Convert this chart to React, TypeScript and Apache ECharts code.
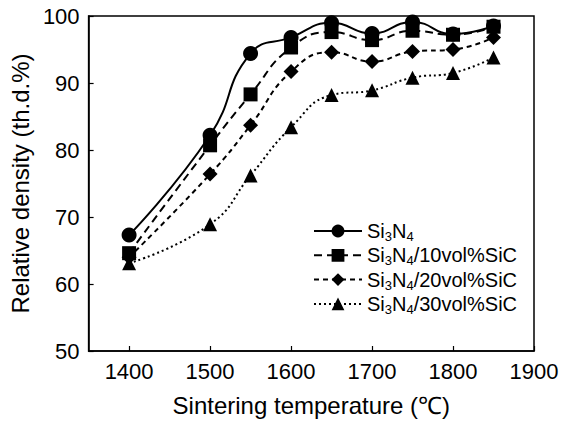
import React, { useEffect, useRef } from "react";
import * as echarts from "echarts";

const temperatures = [1400, 1500, 1550, 1600, 1650, 1700, 1750, 1800, 1850];
const si3n4 = [67.3, 82.2, 94.4, 96.8, 99.0, 97.4, 99.1, 97.3, 98.5];
const sic10 = [64.6, 80.7, 88.3, 95.3, 97.6, 96.4, 97.8, 97.2, 98.4];
const sic20 = [64.0, 76.4, 83.7, 91.7, 94.6, 93.2, 94.7, 95.0, 96.8];
const sic30 = [63.1, 68.9, 76.2, 83.4, 88.2, 88.9, 90.8, 91.5, 93.8];
const xTicks = [1400, 1500, 1600, 1700, 1800, 1900];

const seriesNames = ["Si3N4", "Si3N4/10vol%SiC", "Si3N4/20vol%SiC", "Si3N4/30vol%SiC"];
const legendLabels = [
  "{n|Si}{s|3}{n|N}{s|4}",
  "{n|Si}{s|3}{n|N}{s|4}{n|/10vol%SiC}",
  "{n|Si}{s|3}{n|N}{s|4}{n|/20vol%SiC}",
  "{n|Si}{s|3}{n|N}{s|4}{n|/30vol%SiC}",
];

const FONT = "'Liberation Sans', Arial, Helvetica, sans-serif";

export default function App() {
  const ref = useRef<HTMLDivElement>(null);
  useEffect(() => {
    if (!ref.current) return;
    const chart = echarts.init(ref.current, null, { renderer: "svg" });
    const mk = (
      name: string,
      data: number[],
      symbol: string,
      size: number,
      type: any
    ) => ({
      name,
      type: "line",
      data: temperatures.map((t, i) => [t, data[i]]),
      smooth: 0.5,
      symbol,
      symbolSize: size,
      itemStyle: { color: "#000" },
      lineStyle: { color: "#000", width: 2, type },
    });
    chart.setOption({
      animation: false,
      backgroundColor: "#fff",
      textStyle: { fontFamily: FONT },
      grid: {
        left: 87,
        right: 30,
        top: 16,
        bottom: 74,
        show: true,
        borderColor: "#000",
        borderWidth: 1.5,
      },
      legend: {
        orient: "vertical",
        left: 308,
        top: 216,
        itemWidth: 48,
        itemHeight: 16,
        itemGap: 2.3,
        data: seriesNames,
        formatter: (name: string) => legendLabels[seriesNames.indexOf(name)],
        textStyle: {
          color: "#000",
          fontFamily: FONT,
          fontSize: 20,
          rich: {
            n: { fontSize: 20, lineHeight: 24, color: "#000", fontFamily: FONT },
            s: {
              fontSize: 13,
              lineHeight: 13,
              verticalAlign: "bottom",
              color: "#000",
              fontFamily: FONT,
            },
          },
        },
      },
      xAxis: {
        type: "value",
        min: 1350,
        max: 1900,
        name: "Sintering temperature (\u2103)",
        nameLocation: "middle",
        nameGap: 42,
        nameTextStyle: { fontSize: 24, color: "#000", fontFamily: FONT },
        axisLine: { lineStyle: { color: "#000", width: 1.5 } },
        axisTick: {
          inside: true,
          length: 5,
          lineStyle: { color: "#000", width: 1.2 },
          customValues: xTicks,
        },
        axisLabel: {
          fontSize: 22,
          color: "#000",
          margin: 9,
          fontFamily: FONT,
          customValues: xTicks,
          formatter: (v: number) => String(v),
        },
        splitLine: { show: false },
      },
      yAxis: {
        type: "value",
        min: 50,
        max: 100,
        interval: 10,
        name: "Relative density (th.d.%)",
        nameLocation: "middle",
        nameGap: 52,
        nameTextStyle: { fontSize: 24, color: "#000", fontFamily: FONT },
        axisLine: { show: true, lineStyle: { color: "#000", width: 1.5 } },
        axisTick: {
          show: true,
          inside: true,
          length: 5,
          lineStyle: { color: "#000", width: 1.2 },
        },
        axisLabel: { fontSize: 22, color: "#000", margin: 9, fontFamily: FONT },
        splitLine: { show: false },
      },
      series: [
        mk(seriesNames[0], si3n4, "circle", 15, "solid"),
        mk(seriesNames[1], sic10, "rect", 14, [8, 5]),
        mk(seriesNames[2], sic20, "diamond", 15, [5, 4]),
        mk(seriesNames[3], sic30, "triangle", 14, [2, 3]),
      ],
    });
    return () => chart.dispose();
  }, []);
  return <div ref={ref} style={{ width: 564, height: 425, position: "absolute", left: 0, top: 0 }} />;
}
